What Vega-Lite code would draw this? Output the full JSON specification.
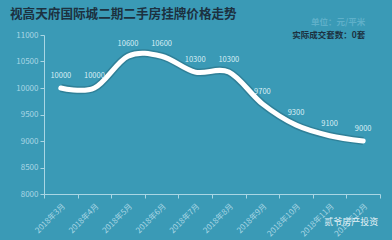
{
  "$schema": "https://vega.github.io/schema/vega-lite/v6.json",
  "width": 336,
  "height": 159,
  "autosize": {"type": "none"},
  "padding": {"left": 44, "top": 35, "right": 12, "bottom": 46},
  "background": "#3a9ab6",
  "config": {
    "view": {"stroke": null},
    "font": "Noto Sans CJK SC"
  },
  "title": {
    "text": "视高天府国际城二期二手房挂牌价格走势",
    "anchor": "start",
    "frame": "group",
    "dx": -34,
    "offset": -3,
    "fontSize": 12.6,
    "fontWeight": "bold",
    "color": "#1c3140",
    "font": "Noto Sans CJK SC"
  },
  "datasets": {
    "prices": [
      {"month": "2018年3月", "price": 10000},
      {"month": "2018年4月", "price": 10000},
      {"month": "2018年5月", "price": 10600},
      {"month": "2018年6月", "price": 10600},
      {"month": "2018年7月", "price": 10300},
      {"month": "2018年8月", "price": 10300},
      {"month": "2018年9月", "price": 9700},
      {"month": "2018年10月", "price": 9300},
      {"month": "2018年11月", "price": 9100},
      {"month": "2018年12月", "price": 9000}
    ],
    "notes": [
      {"month": "2018年12月", "price": 11250, "t": "单位：元/平米", "kind": "unit"},
      {"month": "2018年12月", "price": 11000, "t": "实际成交套数：0套", "kind": "count"}
    ],
    "mark": [
      {"month": "2018年12月", "price": 7480, "t": "贰爷房产投资"}
    ]
  },
  "encoding": {
    "x": {
      "field": "month",
      "type": "ordinal",
      "sort": null,
      "bandPosition": 0.5,
      "scale": {"type": "band", "paddingInner": 0, "paddingOuter": 0},
      "axis": {
        "title": null,
        "labelAngle": -45,
        "labelFontSize": 8,
        "labelColor": "#a9d6e4",
        "tickBand": "extent",
        "tickColor": "#a9d6e4",
        "tickSize": 4,
        "domainColor": "#a9d6e4",
        "labelPadding": 4
      }
    },
    "y": {
      "field": "price",
      "type": "quantitative",
      "scale": {"domain": [8000, 11000], "nice": false},
      "axis": {
        "title": null,
        "values": [8000, 8500, 9000, 9500, 10000, 10500, 11000],
        "format": "d",
        "labelFontSize": 8,
        "labelColor": "#a9d6e4",
        "tickColor": "#a9d6e4",
        "tickSize": 4,
        "domainColor": "#a9d6e4",
        "grid": false,
        "labelPadding": 2
      }
    }
  },
  "layer": [
    {
      "data": {"name": "prices"},
      "mark": {"type": "line", "interpolate": "cardinal", "stroke": "#1d4f60", "strokeWidth": 8, "opacity": 0.35}
    },
    {
      "data": {"name": "prices"},
      "mark": {"type": "line", "interpolate": "cardinal", "stroke": "#ffffff", "strokeWidth": 5, "strokeCap": "round"}
    },
    {
      "data": {"name": "prices"},
      "mark": {"type": "text", "dy": -12, "fontSize": 7.5, "color": "#d9eef5"},
      "encoding": {"text": {"field": "price", "type": "quantitative", "format": "d"}}
    },
    {
      "data": {"name": "notes"},
      "mark": {"type": "text", "align": "right", "dx": 2, "fontSize": 8.5, "fontWeight": "bold"},
      "encoding": {
        "text": {"field": "t"},
        "color": {"field": "kind", "type": "nominal", "scale": {"domain": ["unit", "count"], "range": ["#5fb0c9", "#1c3140"]}, "legend": null}
      }
    },
    {
      "data": {"name": "mark"},
      "mark": {"type": "text", "align": "right", "dx": 15, "fontSize": 9, "color": "#e8f4f8"},
      "encoding": {"text": {"field": "t"}}
    }
  ]
}
